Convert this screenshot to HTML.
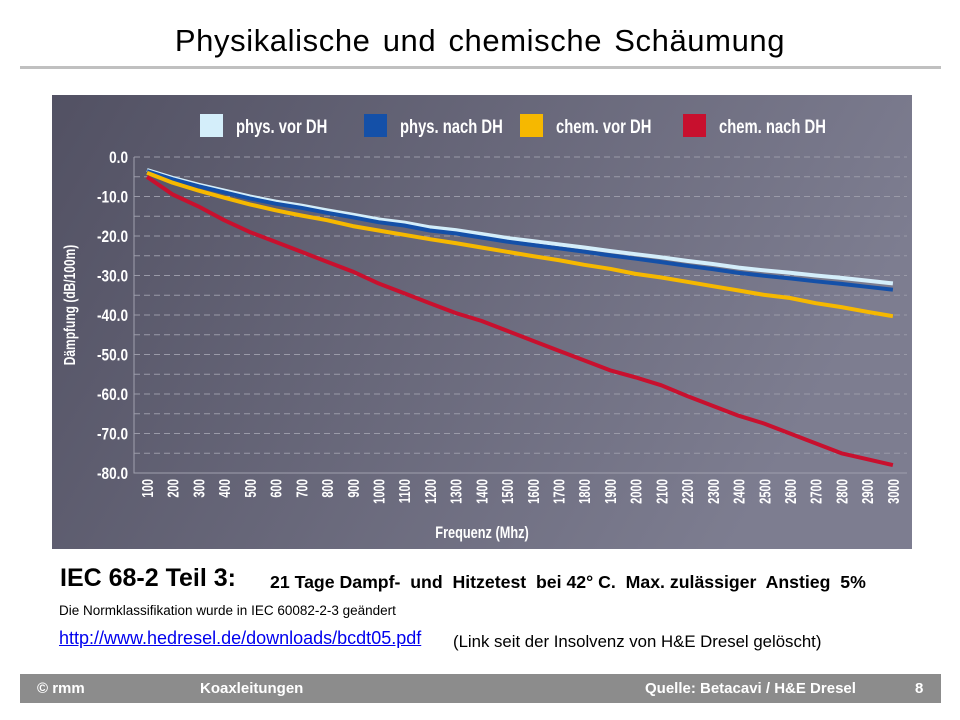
<!DOCTYPE html>
<html><head><meta charset="utf-8"><style>
body{margin:0;width:960px;height:720px;background:#fff;position:relative;font-family:"Liberation Sans",sans-serif;overflow:hidden}
.a{position:absolute;white-space:nowrap}
</style></head><body>
<div class="a" style="left:0;width:960px;top:23px;text-align:center;font-size:31px;color:#000;letter-spacing:0.6px;word-spacing:3px">Physikalische und chemische Schäumung</div>
<div class="a" style="left:20px;width:921px;top:66px;height:3px;background:#c0c0c0"></div>
<svg class="a" style="left:52px;top:95px" width="860" height="454" id="ch"></svg>
<div class="a" style="left:60px;top:564px;font-size:25px;font-weight:bold">IEC 68-2 Teil 3:</div>
<div class="a" style="left:270px;top:572px;font-size:17.7px;font-weight:bold">21 Tage Dampf-&nbsp; und&nbsp; Hitzetest&nbsp; bei 42° C.&nbsp; Max. zulässiger&nbsp; Anstieg&nbsp; 5%</div>
<div class="a" style="left:59px;top:603px;font-size:13.5px">Die Normklassifikation wurde in IEC 60082-2-3 geändert</div>
<div class="a" style="left:59px;top:628px;font-size:18px;color:#0000ee;text-decoration:underline">http://www.hedresel.de/downloads/bcdt05.pdf</div>
<div class="a" style="left:453px;top:632px;font-size:16.8px">(Link seit der Insolvenz von H&amp;E Dresel gelöscht)</div>
<div class="a" style="left:20px;top:674px;width:921px;height:29px;background:#8c8c8c;color:#fff;font-weight:bold;font-size:15px">
<span class="a" style="left:17px;top:6px">© rmm</span>
<span class="a" style="left:180px;top:6px">Koaxleitungen</span>
<span class="a" style="left:625px;top:6px">Quelle: Betacavi / H&amp;E Dresel</span>
<span class="a" style="left:895px;top:6px">8</span>
</div>
<script>
var s='<defs><linearGradient id="g" x1="0" y1="0" x2="1" y2="0.3"><stop offset="0" stop-color="#525163"/><stop offset="1" stop-color="#7d7d90"/></linearGradient></defs><rect width="860" height="454" fill="url(#g)"/>';
function T(x,y,str,size,anchor,rot,sx){return '<text transform="translate('+x+','+y+')'+(rot?' rotate(-90)':'')+' scale('+(sx||0.75)+',1)" text-anchor="'+(anchor||'start')+'" fill="#fff" font-size="'+size+'" font-weight="bold" font-family="Liberation Sans,sans-serif">'+str+'</text>';}
function Y(v){return 62+3.95*(-v);}
function X(i){return 95+25.72*i;}
for(var k=0;k<=16;k++){var y=Y(-5*k);s+='<line x1="82" x2="855" y1="'+y+'" y2="'+y+'" stroke="#9a9aa8" stroke-dasharray="6,4" stroke-width="1"/>';}
s+='<polyline points="82,'+Y(0)+' 82,'+Y(-80)+' 855,'+Y(-80)+'" fill="none" stroke="#a0a0ae" stroke-width="1"/>';
for(var k=0;k<=8;k++){s+=T(76,Y(-10*k)+6,k?'-'+k*10+'.0':'0.0',17,'end',0,0.8);}
for(var i=0;i<30;i++){s+=T(X(i)+6,384,String(100*(i+1)),16,'end',1,0.7);}
s+=T(430,443,'Frequenz (Mhz)',17,'middle');
s+=T(23,210,'Dämpfung (dB/100m)',16,'middle',1);
var pv=[-3.3,-5.3,-7,-8.5,-10,-11.3,-12.3,-13.5,-14.6,-15.8,-16.6,-17.8,-18.5,-19.5,-20.5,-21.3,-22.1,-22.9,-23.8,-24.6,-25.4,-26.3,-27.1,-28,-28.7,-29.3,-30,-30.6,-31.3,-32];
var pn=pv.map(function(v,i){return v-0.3-i*0.045;});
var cv=[-4,-6.5,-8.5,-10.3,-12,-13.5,-14.8,-16,-17.5,-18.6,-19.7,-20.8,-21.8,-22.9,-24,-25.1,-26.1,-27.3,-28.3,-29.6,-30.5,-31.6,-32.7,-33.8,-34.9,-35.7,-37,-38,-39.2,-40.3];
var cn=[-5,-9.5,-12.5,-16,-19,-21.5,-24,-26.5,-29,-32,-34.5,-37,-39.5,-41.5,-44,-46.5,-49,-51.5,-54,-55.8,-57.8,-60.5,-63,-65.5,-67.5,-70,-72.5,-75,-76.5,-78];
function L(d,c){var p=d.map(function(v,i){return X(i).toFixed(1)+','+Y(v).toFixed(1)}).join(' ');s+='<polyline points="'+p+'" fill="none" stroke="'+c+'" stroke-width="4" stroke-linejoin="round"/>';}
L(pv,'#d4eefa');L(pn,'#1450a8');L(cv,'#f6b800');L(cn,'#c8102e');
var lg=[[148,'#d4eefa','phys. vor DH'],[312,'#1450a8','phys. nach DH'],[468,'#f6b800','chem. vor DH'],[631,'#c8102e','chem. nach DH']];
lg.forEach(function(l){s+='<rect x="'+l[0]+'" y="19" width="23" height="23" fill="'+l[1]+'"/>'+T(l[0]+36,38,l[2],19,'start',0,0.78);});
document.getElementById('ch').innerHTML=s;
</script>
</body></html>
